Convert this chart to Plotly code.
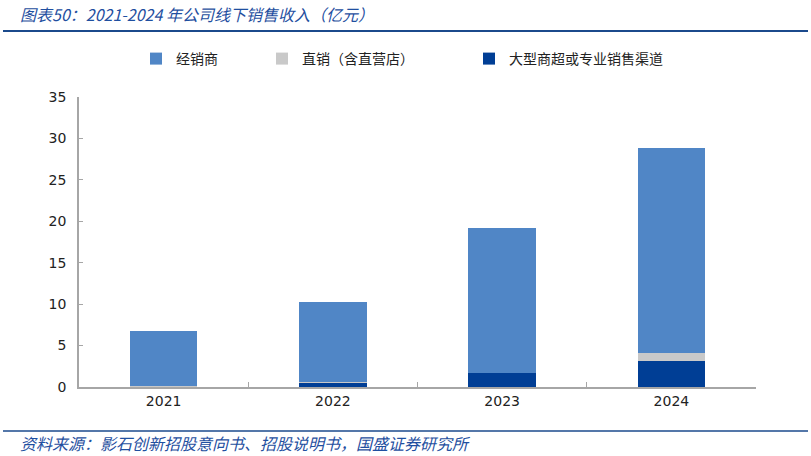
import plotly.graph_objects as go

years = ["2021", "2022", "2023", "2024"]
dealer = [6.64, 9.62, 17.39, 24.70]          # 经销商
direct = [0.04, 0.12, 0.05, 1.04]            # 直销（含直营店）
retail = [0.08, 0.52, 1.69, 3.10]            # 大型商超或专业销售渠道
y_ticks = [0, 5, 10, 15, 20, 25, 30, 35]

names = ["经销商", "直销（含直营店）", "大型商超或专业销售渠道"]
colors = ["#5086C6", "#C9C9C9", "#003E95"]

W, H = 811, 456
L, R, T, B = 79, 55, 97, 69
pw, ph = W - L - R, H - T - B

def px(x):
    return (x - L) / pw

def py(y):
    return (H - B - y) / ph

fig = go.Figure()
fig.add_trace(go.Bar(x=years, y=retail, name=names[2], marker_color=colors[2],
                     marker_line_width=0, legend="legend3"))
fig.add_trace(go.Bar(x=years, y=direct, name=names[1], marker_color=colors[1],
                     marker_line_width=0, legend="legend2"))
fig.add_trace(go.Bar(x=years, y=dealer, name=names[0], marker_color=colors[0],
                     marker_line_width=0, legend="legend"))

font = "Noto Sans CJK SC, Roboto, sans-serif"
leg_common = dict(orientation="h", xanchor="left", yanchor="middle",
                  font=dict(family=font, size=14, color="#222"),
                  bgcolor="rgba(0,0,0,0)", itemwidth=30)

fig.update_layout(
    width=W, height=H,
    margin=dict(l=L, r=R, t=T, b=B),
    paper_bgcolor="white", plot_bgcolor="white",
    barmode="stack", bargap=0.6,
    showlegend=True,
    legend=dict(x=px(136), y=py(59), **leg_common),
    legend2=dict(x=px(262), y=py(59), **leg_common),
    legend3=dict(x=px(469), y=py(59), **leg_common),
    font=dict(family=font, size=14, color="#222"),
    xaxis=dict(showline=True, linecolor="#A6A6A6", linewidth=1.5,
               ticks="inside", tickson="boundaries", ticklen=5,
               tickcolor="#A6A6A6", showgrid=False,
               tickfont=dict(family="DejaVu Sans, sans-serif", size=14, color="#222")),
    yaxis=dict(range=[0, 35], tickvals=y_ticks, showline=True, linecolor="#A6A6A6",
               linewidth=1.5, ticks="inside", ticklen=4, tickcolor="#A6A6A6",
               showgrid=False, zeroline=False, ticklabelstandoff=8,
               tickfont=dict(family="DejaVu Sans, sans-serif", size=14, color="#222")),
)

blue = "#1B4A8C"
fig.add_shape(type="line", xref="paper", yref="paper",
              x0=px(3), x1=px(808), y0=py(31), y1=py(31),
              line=dict(color=blue, width=2))
fig.add_shape(type="line", xref="paper", yref="paper",
              x0=px(3), x1=px(808), y0=py(431), y1=py(431),
              line=dict(color=blue, width=1.5))

fig.add_annotation(xref="paper", yref="paper", x=px(18), y=py(14),
                   xanchor="left", yanchor="middle", showarrow=False,
                   text="<i>图表50：2021-2024 年公司线下销售收入（亿元）</i>",
                   font=dict(family=font, size=16, color="#1F4FA0"))
fig.add_annotation(xref="paper", yref="paper", x=px(18), y=py(443),
                   xanchor="left", yanchor="middle", showarrow=False,
                   text="<i>资料来源：影石创新招股意向书、招股说明书，国盛证券研究所</i>",
                   font=dict(family=font, size=16, color="#1F4FA0"))

fig.write_html(
    "out.html",
    config={"displayModeBar": False},
    post_script="document.body.style.margin='0';document.body.style.padding='0';",
)
